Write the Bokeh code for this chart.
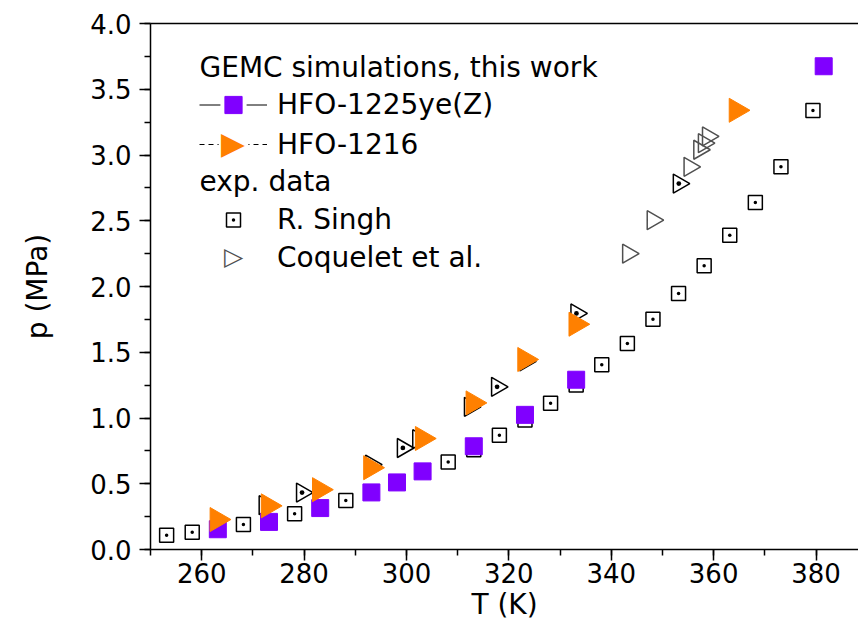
import math
from bokeh.plotting import figure
from bokeh.models import (Range1d, LinearAxis, SingleIntervalTicker, FixedTicker,
                          NumeralTickFormatter, Legend, LegendItem, Label)
from bokeh.embed import file_html
from bokeh.resources import INLINE

# ---------------- data ----------------
hfo1225_T = [263.15, 273.15, 283.15, 293.15, 298.15, 303.15, 313.15, 323.15, 333.15, 381.5]
hfo1225_p = [0.154, 0.21, 0.315, 0.434, 0.51, 0.594, 0.785, 1.024, 1.291, 3.675]

hfo1216_T = [263.0, 273.0, 283.0, 293.0, 303.1, 313.0, 323.1, 333.1, 364.4]
hfo1216_p = [0.228, 0.332, 0.455, 0.622, 0.844, 1.115, 1.445, 1.713, 3.34]

singh_T = [253.15, 258.15, 268.15, 278.15, 288.15, 308.15, 313.15, 318.15, 323.15, 328.15,
           333.15, 338.15, 343.15, 348.15, 353.15, 358.15, 363.15, 368.15, 373.15, 379.4]
singh_p = [0.109, 0.131, 0.19, 0.271, 0.372, 0.666, 0.758, 0.869, 0.985, 1.112,
           1.251, 1.404, 1.567, 1.751, 1.947, 2.157, 2.39, 2.639, 2.91, 3.338]

coquelet_T = [343.3, 348.1, 355.3, 357.2, 358.1, 358.9]
coquelet_p = [2.25, 2.504, 2.91, 3.04, 3.09, 3.141]

coquelet_dot_T = [272.3, 279.6, 293.1, 299.3, 302.3, 312.4, 317.7, 323.2, 333.2, 353.2]
coquelet_dot_p = [0.337, 0.433, 0.646, 0.772, 0.839, 1.085, 1.237, 1.43, 1.795, 2.783]

x_limits = (250, 388.3)
y_limits = (0.0, 4.0)

heading_sim = "GEMC simulations, this work"
heading_exp = "exp. data"
label_1225 = "HFO-1225ye(Z)"
label_1216 = "HFO-1216"
label_singh = "R. Singh"
label_coq = "Coquelet et al."

# ---------------- styling ----------------
FONT = "DejaVu Sans"
PURPLE = "#8000FF"
ORANGE = "#FF8000"
GREY = "#505050"
RIGHT = -math.pi / 2
NAN = float("nan")

p = figure(frame_width=708, frame_height=526,
           x_range=Range1d(*x_limits), y_range=Range1d(*y_limits),
           output_backend="svg", toolbar_location=None,
           min_border_left=150, min_border_right=0, min_border_top=23, min_border_bottom=78,
           x_axis_label="T (K)", y_axis_label="p (MPa)")
p.outline_line_color = None
p.grid.visible = False

xa = p.xaxis[0]
ya = p.yaxis[0]
xa.ticker = SingleIntervalTicker(interval=20, num_minor_ticks=2)
ya.ticker = SingleIntervalTicker(interval=0.5, num_minor_ticks=2)
ya.formatter = NumeralTickFormatter(format="0.0")
for ax in (xa, ya):
    ax.axis_line_width = 1.5
    ax.axis_line_color = "black"
    ax.major_tick_line_width = 1.5
    ax.minor_tick_line_width = 1.5
    ax.major_tick_line_color = "black"
    ax.minor_tick_line_color = "black"
    ax.major_tick_out = 11
    ax.major_tick_in = 0
    ax.minor_tick_out = 6
    ax.minor_tick_in = 0
    ax.major_label_text_font = FONT
    ax.major_label_text_font_size = "26px"
    ax.major_label_text_color = "black"
    ax.axis_label_text_font = FONT
    ax.axis_label_text_font_size = "28px"
    ax.axis_label_text_font_style = "normal"
    ax.axis_label_text_color = "black"
xa.major_label_standoff = 2
ya.major_label_standoff = 8
xa.axis_label_standoff = 2
ya.axis_label_standoff = 33

top = LinearAxis(ticker=FixedTicker(ticks=[]), major_label_text_font_size="0px",
                 major_tick_out=0, minor_tick_out=0, major_tick_in=0, minor_tick_in=0,
                 axis_line_width=1.5, axis_line_color="black")
p.add_layout(top, "above")

# ---------------- data glyphs ----------------
r_singh = p.scatter(singh_T, singh_p, marker="square_dot", size=14, fill_color=None,
                    line_color="black", line_width=1.5)
r_coq = p.scatter(coquelet_T, coquelet_p, marker="triangle", angle=RIGHT, size=19,
                  fill_color=None, line_color=GREY, line_width=1.5)
r_coqd = p.scatter(coquelet_dot_T, coquelet_dot_p, marker="triangle_dot", angle=RIGHT, size=19,
                   fill_color=None, line_color="black", line_width=1.5)
r_1225 = p.scatter(hfo1225_T, hfo1225_p, marker="square", size=17,
                   fill_color=PURPLE, line_color=PURPLE, line_width=1)
r_1216 = p.scatter(hfo1216_T, hfo1216_p, marker="triangle", angle=RIGHT, size=24,
                   fill_color=ORANGE, line_color=ORANGE, line_width=1)

# legend-only helpers (not drawn in the plot: NaN data)
l_solid = p.line(x=[NAN], y=[NAN], line_color="black", line_width=1)
l_dash = p.line(x=[NAN], y=[NAN], line_color="black", line_width=1, line_dash="5 4")
l_none = p.line(x=[NAN], y=[NAN], line_alpha=0)
w_sq = p.scatter(x=[NAN], y=[NAN], marker="square", fill_color="white",
                 line_color="white", line_width=9)
w_tri = p.scatter(x=[NAN], y=[NAN], marker="triangle", fill_color="white",
                  line_color="white", line_width=12)


def add_legend(item, g, vy, x=49, gw=68, standoff=10, size="28px", color="black"):
    lg = Legend(items=[item], location=(x, vy), glyph_width=gw, glyph_height=g,
                label_height=g, label_standoff=standoff, padding=0, margin=0, spacing=0,
                border_line_color=None, background_fill_alpha=0,
                label_text_font=FONT, label_text_font_size=size, label_text_color=color)
    p.add_layout(lg)


add_legend(LegendItem(label=label_1225, renderers=[l_solid, w_sq, r_1225]), 43, 423)
add_legend(LegendItem(label=label_1216, renderers=[l_dash, w_tri]), 60, 375)
add_legend(LegendItem(label=label_singh, renderers=[r_singh]), 35, 312)
add_legend(LegendItem(label=label_coq, renderers=[l_none]), 47, 268)
# right-pointing filled triangle symbol for the HFO-1216 entry (legend markers cannot rotate)
add_legend(LegendItem(label="\u25B6", renderers=[l_none]), 40, 386, x=71, gw=0,
           standoff=0, size="31px", color=ORANGE)

# right-pointing open triangle symbol for the Coquelet entry
p.add_layout(Label(x=83, y=293, x_units="screen", y_units="screen", text="\u25B7",
                   text_font=FONT, text_font_size="25px", text_align="center",
                   text_baseline="middle", text_color=GREY))

for txt, yb in ((heading_sim, 482), (heading_exp, 367.6)):
    p.add_layout(Label(x=49, y=yb, x_units="screen", y_units="screen", text=txt,
                       text_font=FONT, text_font_size="28px", text_baseline="alphabetic",
                       text_color="black"))

open("out.html", "w").write(file_html(p, INLINE))
